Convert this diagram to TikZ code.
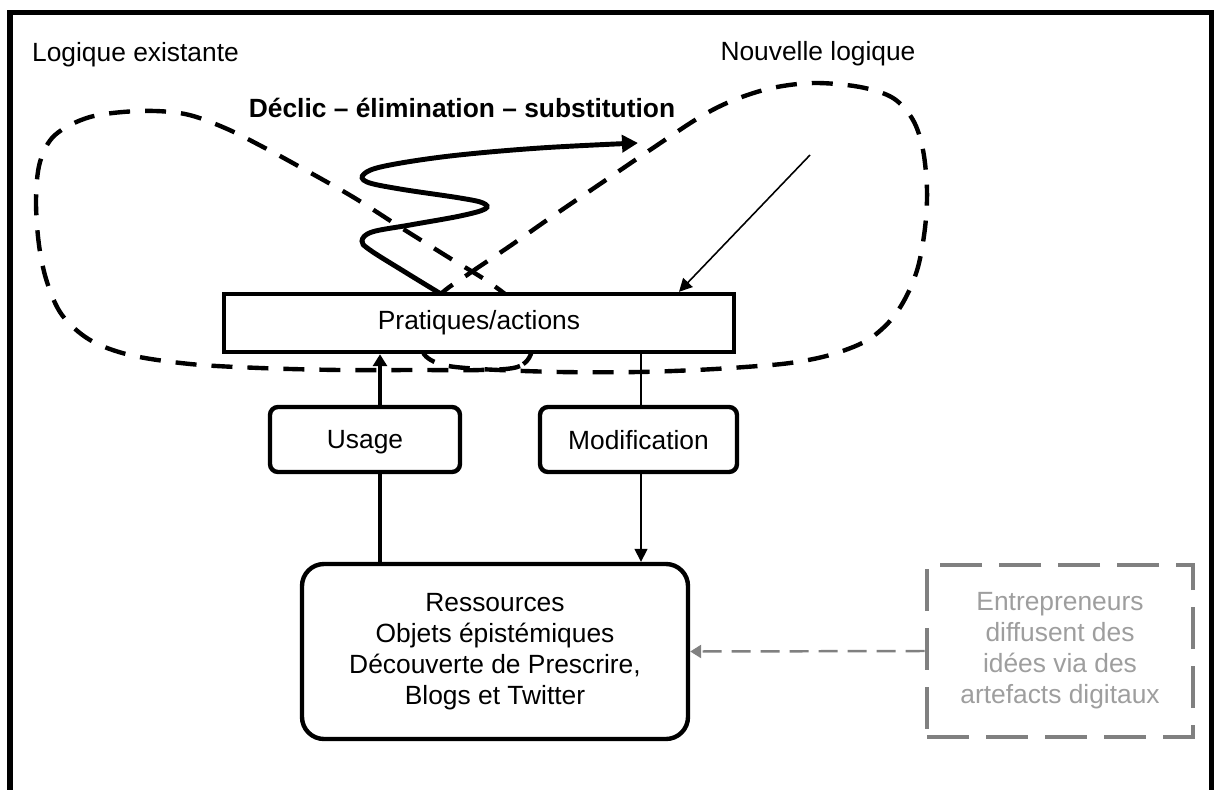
\documentclass[tikz,border=0pt]{standalone}
\usepackage{fontspec}
\setmainfont{Liberation Sans}
\usetikzlibrary{arrows.meta,positioning,calc}
\definecolor{entrgray}{RGB}{128,128,128}
\definecolor{entrtext}{RGB}{158,158,158}

\begin{document}
\begin{tikzpicture}[x=0.2mm,y=-0.2mm,
    every node/.style={font=\fontsize{15}{17.6}\selectfont},
    loopline/.style={line width=2.5pt,dash pattern=on 4.2mm off 3mm},
    box/.style={draw,line width=2.5pt,fill=white,align=center,inner sep=0pt},
    smallbox/.style={box,rounded corners=1.6mm,minimum height=13mm,text depth=0pt},
    thinarrow/.style={line width=0.9pt,-{Triangle[length=2.6mm,width=2.6mm]}}]
    \useasboundingbox (0,0) rectangle (1214,789);
    % Frame, open at the bottom
    \draw[line width=2.85pt] (10,800) -- (10,12.5) -- (1211.5,12.5) -- (1211.5,800);

    % Titles
    \node (existante) at (135.5,55) {Logique existante};
    \node (nouvelle) at (818,54) {Nouvelle logique};
    \node[font=\fontsize{15}{17.6}\selectfont\bfseries] (declictxt) at (462,108) {Déclic – élimination – substitution};

    % Existing logic loop
    \draw[loopline] plot[smooth cycle,tension=0.55] coordinates {
        (532,345) (520,366) (480,370) (420,370) (340,370) (260,368)
        (190,364) (130,355) (90,340) (62,315) (47,282) (39,245)
        (36,200) (40,162) (55,135) (90,117) (140,111) (185,114)
        (225,128) (265,148) (300,167) (353,197) (400,227) (448,257)
        (490,283) (515,305)};

    % New logic loop
    \draw[loopline] plot[smooth cycle,tension=0.55] coordinates {
        (440,295) (470,273) (510,246) (550,218) (600,184) (650,150)
        (700,117) (734,100) (772,88) (814,83) (860,87) (893,98)
        (913,120) (923,150) (927,190) (925,228) (918,267) (906,297)
        (890,321) (866,341) (830,355) (790,363) (745,367) (696,370)
        (638,372) (560,372) (480,369) (440,364) (422,350) (428,320)};

    % Switch between logics
    \coordinate (declic) at (638,143);
    \draw[line width=2.8pt,-{Triangle[length=3.2mm,width=3.4mm]}] plot[smooth,tension=0.6] coordinates {
        (441,294) (405,272) (370,250) (362,241) (372,232) (410,225)
        (460,216) (485,209) (483,203) (460,198) (400,189) (367,182)
        (364,174) (385,166) (450,156) (540,148) (declic)};

    % Boxes
    \node[box,minimum width=102mm,minimum height=11.6mm] (prat) at (479,323) {Pratiques/actions};
    \node[smallbox,minimum width=38mm] (usage) at (365,439.5) {Usage};
    \node[smallbox,minimum width=39.4mm] (modif) at (638.5,439.5) {Modification};
    \node[box,rounded corners=4.4mm,minimum width=77.2mm,minimum height=35mm] (ress) at (495,651.5)
        {Ressources\\Objets épistémiques\\Découverte de Prescrire,\\Blogs et Twitter};
    \node[box,draw=entrgray,text=entrtext,line width=2.8pt,dash pattern=on 8.4mm off 3.4mm,
        minimum width=53.2mm,minimum height=34.4mm] (entr) at (1060,651)
        {Entrepreneurs\\diffusent des\\idées via des\\artefacts digitaux};

    % Links
    \coordinate (ux) at (380,0);
    \coordinate (mx) at (641,0);
    \coordinate (nl) at (810,155);
    \coordinate (nx) at (679,0);
    \draw[line width=2.3pt] (ux |- ress.north) -- (ux |- usage.south);
    \draw[line width=2.3pt,-{Triangle[length=2.4mm,width=2.8mm]}] (ux |- usage.north) -- (ux |- prat.south);
    \draw[line width=0.9pt] (mx |- prat.south) -- (mx |- modif.north);
    \draw[thinarrow] (mx |- modif.south) -- (mx |- ress.north);
    \draw[thinarrow] (nl) -- (nx |- prat.north);
    \draw[entrgray,line width=1.4pt,dash pattern=on 3.8mm off 2mm,-{Triangle[length=2.2mm,width=2.6mm]}] (entr.west) -- (ress.east);
\end{tikzpicture}
\end{document}
